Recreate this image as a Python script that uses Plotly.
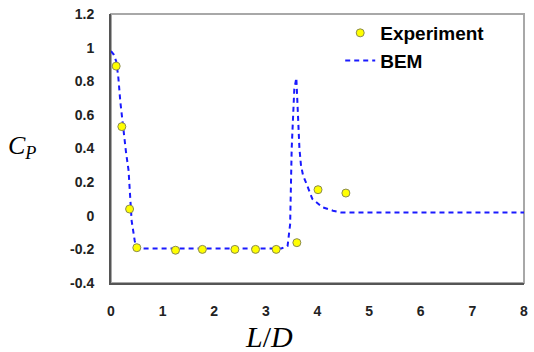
import plotly.graph_objects as go

# Experimental data
exp_x = [0.1, 0.21, 0.36, 0.5, 1.25, 1.77, 2.4, 2.8, 3.2, 3.6, 4.01, 4.55]
exp_y = [0.89, 0.53, 0.04, -0.19, -0.205, -0.2, -0.2, -0.2, -0.2, -0.16, 0.155, 0.135]

# BEM curve
bem_x = [0.0, 0.05, 0.1, 0.14, 0.18, 0.23, 0.29, 0.34, 0.37, 0.4, 0.46, 0.5, 1.0, 2.0, 3.0, 3.3,
         3.42, 3.47, 3.5, 3.55, 3.59, 3.62, 3.65, 3.68, 3.72, 3.8, 3.9, 4.1, 4.3, 4.45, 6.0, 8.0]
bem_y = [0.98, 0.96, 0.92, 0.83, 0.68, 0.53, 0.38, 0.27, 0.09, -0.03, -0.15, -0.195, -0.195, -0.195,
         -0.195, -0.195, -0.18, -0.05, 0.4, 0.75, 0.82, 0.55, 0.4, 0.3, 0.24, 0.18, 0.1, 0.05, 0.03, 0.02, 0.02, 0.02]

x_ticks = [0, 1, 2, 3, 4, 5, 6, 7, 8]
x_tick_text = ["0", "1", "2", "3", "4", "5", "6", "7", "8"]
y_ticks = [-0.4, -0.2, 0, 0.2, 0.4, 0.6, 0.8, 1, 1.2]
y_tick_text = ["-0.4", "-0.2", "0", "0.2", "0.4", "0.6", "0.8", "1", "1.2"]

fig = go.Figure()
fig.add_trace(go.Scatter(
    x=bem_x, y=bem_y, mode="lines", name="<b>BEM</b>",
    line=dict(color="#1a1aff", width=2, dash="5px,4px"),
))
fig.add_trace(go.Scatter(
    x=exp_x, y=exp_y, mode="markers", name="<b>Experiment</b>",
    marker=dict(color="#ffff00", size=8, line=dict(color="#8a8a50", width=1)),
))

tick_font = dict(family="Liberation Sans, Arial", size=14, color="#222222")

fig.update_layout(
    width=534, height=352,
    margin=dict(l=111, r=6, t=12, b=69),
    paper_bgcolor="white", plot_bgcolor="white",
    showlegend=True,
    legend=dict(x=0.555, y=1.0, xanchor="left", yanchor="top",
                traceorder="reversed",
                font=dict(family="Liberation Sans, Arial", size=19, color="black"),
                bgcolor="rgba(0,0,0,0)", itemwidth=30, tracegroupgap=0),
    xaxis=dict(range=[0, 8], tickvals=x_ticks, ticktext=["<b>%s</b>" % t for t in x_tick_text],
               showgrid=False, zeroline=False,
               showline=True, linecolor="#555555", linewidth=2, ticks="",
               tickfont=tick_font, ticklabelstandoff=14),
    yaxis=dict(range=[-0.4, 1.2], tickvals=y_ticks, ticktext=["<b>%s</b>" % t for t in y_tick_text],
               showgrid=False, zeroline=False,
               showline=True, linecolor="#555555", linewidth=2, ticks="",
               tickfont=tick_font, ticklabelstandoff=12),
    shapes=[dict(type="rect", xref="paper", yref="paper", x0=0, x1=1, y0=0, y1=1,
                 line=dict(color="#a8a8a8", width=2), layer="below")],
    annotations=[
        dict(text="<i>C<sub>P</sub></i>", xref="paper", yref="paper", x=-0.215, y=0.505,
             xanchor="center", yanchor="middle", showarrow=False,
             font=dict(family="Liberation Serif, Times New Roman", size=26, color="black")),
        dict(text="<i>L</i>/<i>D</i>", xref="paper", yref="paper", x=0.383, y=-0.2,
             xanchor="center", yanchor="middle", showarrow=False,
             font=dict(family="Liberation Serif, Times New Roman", size=30, color="black")),
    ],
)

fig.write_html("out.html")
